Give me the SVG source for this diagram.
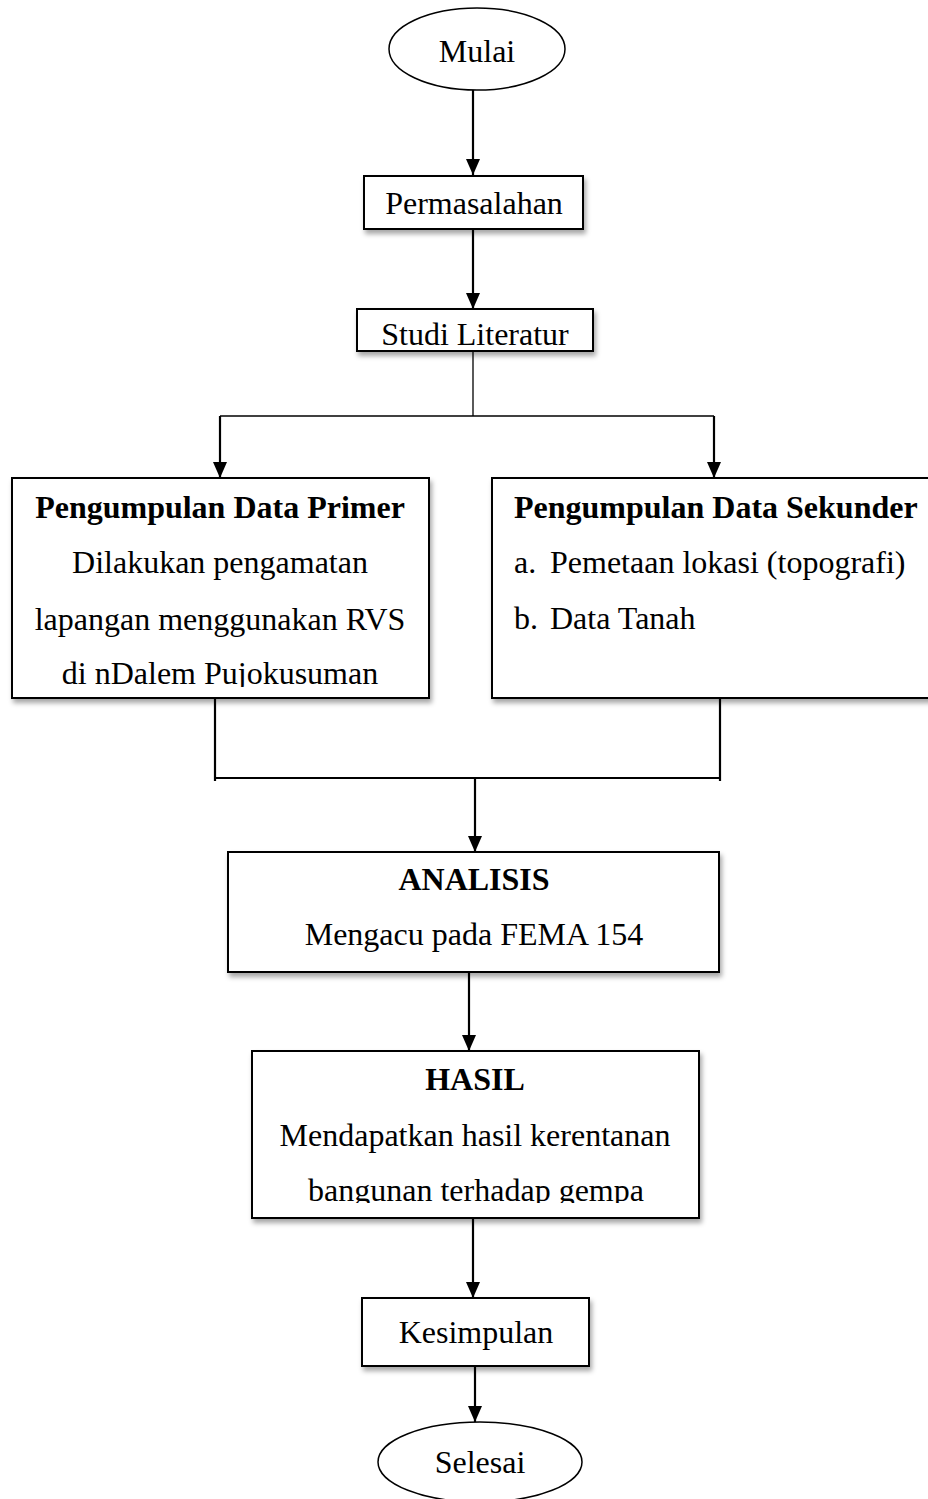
<svg xmlns="http://www.w3.org/2000/svg" width="928" height="1499" viewBox="0 0 928 1499">
<style>
.box{fill:#fff;stroke:#000;stroke-width:2;filter:url(#sh)}
.t{font-family:"Liberation Serif","Times New Roman",serif;font-size:32px;fill:#000}
.c{text-anchor:middle}
.b{font-weight:bold}
.ln{fill:none;stroke:#000;stroke-width:2.2}
.thin{fill:none;stroke:#000;stroke-width:1.3}
</style>
<defs>
<filter id="sh" x="-10%" y="-10%" width="130%" height="140%">
<feDropShadow dx="2" dy="4" stdDeviation="2.5" flood-color="#000" flood-opacity="0.35"/>
</filter>
<marker id="ad" markerUnits="userSpaceOnUse" markerWidth="16" markerHeight="14" refX="16" refY="7" orient="auto" viewBox="0 0 16 14">
<path d="M0,0 L16,7 L0,14 Z" fill="#000"/>
</marker>
<clipPath id="clipP"><rect x="0" y="470" width="440" height="217"/></clipPath>
<clipPath id="clipH"><rect x="240" y="1040" width="470" height="163"/></clipPath>
</defs>

<g id="connectors">
<line class="ln" x1="473" y1="90" x2="473" y2="175" marker-end="url(#ad)"/>
<line class="ln" x1="473" y1="229" x2="473" y2="309" marker-end="url(#ad)"/>
<line class="thin" x1="473" y1="351" x2="473" y2="416"/>
<line class="thin" x1="220" y1="416" x2="714" y2="416"/>
<line class="ln" x1="220" y1="416" x2="220" y2="478" marker-end="url(#ad)"/>
<line class="ln" x1="714" y1="416" x2="714" y2="478" marker-end="url(#ad)"/>
<line class="ln" x1="215" y1="698" x2="215" y2="781"/>
<line class="ln" x1="720" y1="698" x2="720" y2="781"/>
<line class="ln" x1="215" y1="778" x2="720" y2="778"/>
<line class="ln" x1="475" y1="778" x2="475" y2="852" marker-end="url(#ad)"/>
<line class="ln" x1="469" y1="972" x2="469" y2="1051" marker-end="url(#ad)"/>
<line class="ln" x1="473" y1="1218" x2="473" y2="1298" marker-end="url(#ad)"/>
<line class="ln" x1="475" y1="1366" x2="475" y2="1422" marker-end="url(#ad)"/>
</g>

<g id="mulai">
<ellipse cx="477" cy="49" rx="88" ry="41" fill="#fff" stroke="#000" stroke-width="1.5"/>
<text class="t c" x="477" y="62">Mulai</text>
</g>

<g id="permasalahan">
<rect class="box" x="364" y="176" width="219" height="53"/>
<text class="t c" x="474" y="214">Permasalahan</text>
</g>

<g id="studi">
<rect class="box" x="357" y="309" width="236" height="42"/>
<text class="t c" x="475" y="345">Studi Literatur</text>
</g>

<g id="primer">
<rect class="box" x="12" y="478" width="417" height="220"/>
<g clip-path="url(#clipP)">
<text class="t c b" x="220" y="518">Pengumpulan Data Primer</text>
<text class="t c" x="220" y="573">Dilakukan pengamatan</text>
<text class="t c" x="220" y="630">lapangan menggunakan RVS</text>
<text class="t c" x="220" y="684">di nDalem Pujokusuman</text>
</g>
</g>

<g id="sekunder">
<rect class="box" x="492" y="478" width="440" height="220"/>
<text class="t b" x="514" y="518">Pengumpulan Data Sekunder</text>
<text class="t" x="514" y="573">a.</text>
<text class="t" x="550" y="573">Pemetaan lokasi (topografi)</text>
<text class="t" x="514" y="629">b.</text>
<text class="t" x="550" y="629">Data Tanah</text>
</g>

<g id="analisis">
<rect class="box" x="228" y="852" width="491" height="120"/>
<text class="t c b" x="474" y="890">ANALISIS</text>
<text class="t c" x="474" y="945">Mengacu pada FEMA 154</text>
</g>

<g id="hasil">
<rect class="box" x="252" y="1051" width="447" height="167"/>
<g clip-path="url(#clipH)">
<text class="t c b" x="475" y="1090">HASIL</text>
<text class="t c" x="475" y="1146">Mendapatkan hasil kerentanan</text>
<text class="t c" x="476" y="1201">bangunan terhadap gempa</text>
</g>
</g>

<g id="kesimpulan">
<rect class="box" x="362" y="1298" width="227" height="68"/>
<text class="t c" x="476" y="1343">Kesimpulan</text>
</g>

<g id="selesai">
<ellipse cx="480" cy="1462" rx="102" ry="40" fill="#fff" stroke="#000" stroke-width="1.5"/>
<text class="t c" x="480" y="1473">Selesai</text>
</g>
</svg>
